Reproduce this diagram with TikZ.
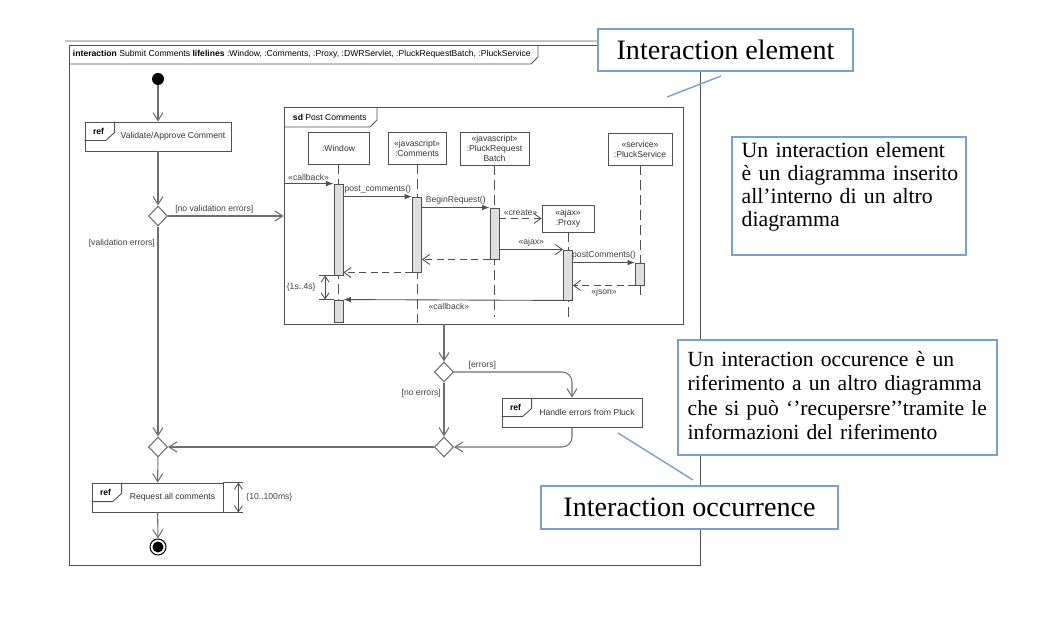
\documentclass[tikz,border=0pt]{standalone}
\usepackage{fontspec}
\setmainfont{Liberation Serif}
\newfontfamily\umlsans{Liberation Sans}
\usepackage{tikz}
\usetikzlibrary{arrows.meta,shapes.geometric,calc}

\definecolor{umlline}{RGB}{80,80,80}
\definecolor{flowline}{RGB}{110,110,110}
\definecolor{notebl}{RGB}{120,160,215}
\definecolor{barfill}{RGB}{222,222,222}
\newcommand\umlfont{\umlsans\fontsize{4.9}{5.7}\selectfont}
\newcommand\bigfont{\fontsize{16}{19}\selectfont}

\tikzset{
  uml/.style={draw=umlline, line width=0.5pt},
  head/.style={uml, rectangle, fill=white, inner sep=0pt, font=\umlfont, text=black!80, align=center},
  actbar/.style={uml, rectangle, fill=barfill, inner sep=0pt, minimum width=0.18cm},
  lifeline/.style={umlline, line width=0.5pt, dash pattern=on 5.5pt off 3pt},
  sync/.style={umlline, line width=0.5pt, -{Latex[length=0.15cm,width=0.11cm]}},
  async/.style={umlline, line width=0.5pt, -{Straight Barb[length=0.14cm,width=0.2cm]}},
  reply/.style={async, dash pattern=on 4pt off 2.5pt},
  flow/.style={flowline, line width=0.6pt, -{Straight Barb[length=0.16cm,width=0.2cm]}},
  durarrow/.style={umlline, line width=0.5pt, {Straight Barb[length=0.12cm,width=0.16cm]}-{Straight Barb[length=0.12cm,width=0.16cm]}},
  lbl/.style={font=\umlfont, text=black!75, inner sep=1.5pt},
  refbox/.style={uml, rectangle, fill=white, minimum height=0.58cm, inner sep=0pt, font=\umlfont, text=black!80},
  choice/.style={diamond, draw=flowline, line width=0.6pt, fill=white, inner sep=0pt, minimum width=0.38cm, minimum height=0.4cm},
  initial/.style={circle, fill=black, inner sep=0pt, minimum size=0.24cm},
  final/.style={circle, draw=black, line width=0.6pt, fill=white, inner sep=0pt, minimum size=0.32cm,
    path picture={\fill[black] (path picture bounding box.center) circle (0.11cm);}},
  note/.style={rectangle, draw=notebl, line width=0.8pt, fill=white, inner sep=0pt},
  notetext/.style={inner sep=0pt, align=left},
  pointer/.style={notebl, line width=0.8pt}
}

% ref tag in the top left corner of an interaction use
\newcommand\reftag[1]{%
  \draw[uml] ([yshift=-0.38cm]#1.north west) -- ++(0.42cm,0) -- ++(0.18cm,0.16cm) -- ([xshift=0.6cm]#1.north west);
  \node[lbl, font=\umlfont\bfseries, text=black] (#1-ref) at ([xshift=0.28cm,yshift=-0.2cm]#1.north west) {ref};}

\begin{document}
\begin{tikzpicture}[x=0.02cm,y=-0.02cm]
\useasboundingbox (0,0) rectangle (1064,638);

% outer interaction frame
\draw[gray!45, line width=0.6pt] (65,41) -- (598,41);
\draw[uml] (69,45) rectangle (700,565);
\draw[uml] (69,64) -- (531,64) -- (538,57) -- (538,45);
\node[lbl, anchor=west, text=black] (ihead) at (70,54.5) {{\bfseries interaction} Submit Comments {\bfseries lifelines} :Window, :Comments, :Proxy, :DWRServlet, :PluckRequestBatch, :PluckService};

% activity flow
\node[initial] (start) at (158,79) {};
\node[refbox, minimum width=2.92cm] (val) at (158,136.5) {\hspace*{0.6cm}Validate/Approve Comment};
\reftag{val}
\node[choice] (d1) at (158,216) {};
\node[choice] (m1) at (158,447) {};
\node[refbox, minimum width=2.62cm] (req) at (157.5,497.5) {\hspace*{0.6cm}Request all comments};
\reftag{req}
\node[final] (fin) at (158,547) {};

% sd frame
\node[uml, rectangle, minimum width=7.98cm, minimum height=4.34cm, inner sep=0pt] (sd) at (483.5,215.5) {};
\draw[uml] (284,127) -- (370,127) -- (377,120) -- (377,107);
\node[lbl, anchor=west, text=black] (sdhead) at (290,117) {{\bfseries sd} Post Comments};

% lifelines
\node[head, minimum width=1.22cm, minimum height=0.64cm] (win) at (338.5,148) {:Window};
\node[head, minimum width=1.16cm, minimum height=0.64cm] (com) at (417,148) {«javascript»\\:Comments};
\node[head, minimum width=1.38cm, minimum height=0.66cm] (batch) at (494.5,148.5) {«javascript»\\:PluckRequest\\Batch};
\node[head, minimum width=1.28cm, minimum height=0.64cm] (svc) at (640,149) {«service»\\:PluckService};
\node[head, minimum width=1.04cm, minimum height=0.54cm] (proxy) at (568,218.5) {«ajax»\\:Proxy};
\coordinate (win-end) at (338.5,322);
\coordinate (com-end) at (417,324);
\coordinate (batch-end) at (494.5,317);
\coordinate (proxy-end) at (568,317);
\coordinate (svc-end) at (640,297);
\draw[lifeline] (win) -- (win-end);
\draw[lifeline] (com) -- (com-end);
\draw[lifeline] (batch) -- (batch-end);
\draw[lifeline] (proxy) -- (proxy-end);
\draw[lifeline] (svc) -- (svc-end);

% activations
\node[actbar, minimum height=1.82cm] (wbar1) at (338.5,229.5) {};
\node[actbar, minimum height=0.44cm] (wbar2) at (338.5,311) {};
\node[actbar, minimum height=1.5cm] (cbar) at (417,234.5) {};
\node[actbar, minimum height=1.02cm] (bbar) at (494.5,233.5) {};
\node[actbar, minimum height=1.0cm] (pbar) at (568,275) {};
\node[actbar, minimum height=0.44cm] (sbar) at (640,274) {};

% messages
\draw[sync] (sd.west |- wbar1.north) -- node[lbl, above] (m-cbin) {«callback»} (wbar1.north west);
\draw[sync] (wbar1.east |- cbar.north) -- node[lbl, above] (m-post) {post\_comments()} (cbar.north west);
\draw[sync] (cbar.east |- bbar.north) -- node[lbl, above] (m-begin) {BeginRequest()} (bbar.north west);
\draw[reply] (bbar.east |- proxy.west) -- node[lbl, above] (m-create) {«create»} (proxy.west);
\draw[async] (bbar.east |- pbar.north) -- node[lbl, above] (m-ajax) {«ajax»} (pbar.north west);
\draw[reply] (bbar.south west) -- (cbar.east |- bbar.south);
\draw[reply] (cbar.south west) -- (wbar1.east |- cbar.south);
\draw[sync] (pbar.east |- sbar.north) -- node[lbl, above] (m-postc) {postComments()} (sbar.north west);
\draw[reply] (sbar.south west) -- node[lbl, below] (m-json) {«json»} (pbar.east |- sbar.south);
\draw[sync] (pbar.south west) -- node[lbl, below, pos=0.52] (m-cbout) {«callback»} (wbar2.north east);

% duration {1s..4s}
\draw[uml] (wbar1.south west) -- ++(-15,0) coordinate (dur-a);
\draw[uml] (wbar2.north west) -- ++(-15,0) coordinate (dur-b);
\draw[durarrow] ([xshift=0.13cm]dur-a) -- ([xshift=0.13cm]dur-b);
\node[lbl, anchor=east] (dur-lbl) at ($(dur-a)!0.5!(dur-b)$) {\{1s..4s\}};

% flow edges
\draw[flow] (start) -- (val);
\draw[flow] (val) -- (d1);
\draw[flow] (d1) -- node[lbl, above, pos=0.4] (g-noval) {[no validation errors]} (d1 -| sd.west);
\draw[flow] (d1) -- node[lbl, left, pos=0.08] (g-val) {[validation errors]} (m1);
\draw[flow] (m1) -- (req);
\draw[flow] (req) -- (fin);

\node[choice] (d2) at (444,372) {};
\node[choice] (m2) at (444,447) {};
\node[refbox, minimum width=2.8cm] (hand) at (572,412.5) {\hspace*{0.6cm}Handle errors from Pluck};
\reftag{hand}
\draw[flow] (d2 |- sd.south) -- (d2);
\draw[flow, rounded corners=0.2cm] (d2.east) -| node[lbl, above, pos=0.12] (g-err) {[errors]} (hand.north);
\draw[flow] (d2) -- node[lbl, left, pos=0.2] (g-noerr) {[no errors]} (m2);
\draw[flow, rounded corners=0.2cm] (hand.south) |- (m2.east);
\draw[flow] (m2) -- (m1);

% duration {10..100ms}
\draw[uml] (req.north east) -- ++(20,0) coordinate (rd-a);
\draw[uml] (req.south east) -- ++(20,0) coordinate (rd-b);
\draw[durarrow] ([xshift=-0.1cm]rd-a) -- ([xshift=-0.1cm]rd-b);
\node[lbl, anchor=west] (rd-lbl) at ($(rd-a)!0.5!(rd-b)$) {\{10..100ms\}};

% notes
\node[note, minimum width=5.1cm, minimum height=0.84cm, font=\bigfont] (n-elem) at (725.5,50) {Interaction element};
\coordinate (p1a) at (721,76);
\coordinate (p1b) at (667,97);
\draw[pointer] (p1a) -- (p1b);

\node[note, minimum width=4.68cm, minimum height=2.36cm] (n-elemtxt) at (849,196) {};
\node[notetext, anchor=north west, text width=4.5cm, font=\fontsize{12.4}{13}\selectfont] (t-elem) at ([xshift=0.2cm,yshift=-0.12cm]n-elemtxt.north west) {Un interaction element\\è un diagramma inserito\\all’interno di un altro\\diagramma};

\node[note, minimum width=6.38cm, minimum height=2.3cm] (n-occtxt) at (837.5,397.5) {};
\node[notetext, anchor=north west, text width=6.1cm, font=\fontsize{12.3}{13.8}\selectfont] (t-occ) at ([xshift=0.2cm,yshift=-0.24cm]n-occtxt.north west) {Un interaction occurence è un\\riferimento a un altro diagramma\\che si può ‘’recupersre’’tramite le\\informazioni del riferimento};

\node[note, minimum width=5.94cm, minimum height=0.86cm, font=\bigfont] (n-occ) at (689.5,507.5) {Interaction occurrence};
\coordinate (p2a) at (618,433);
\coordinate (p2b) at (693,480);
\draw[pointer] (p2a) -- (p2b);
\end{tikzpicture}
\end{document}
